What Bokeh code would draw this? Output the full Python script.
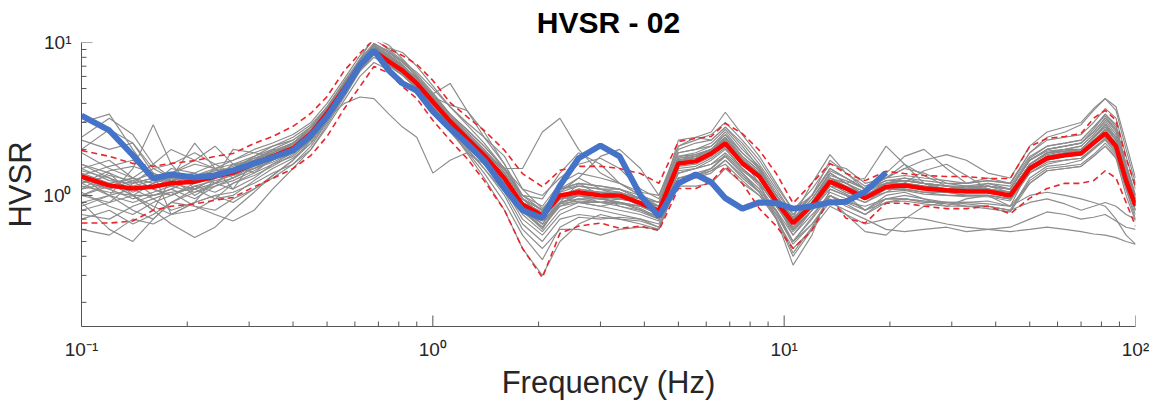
from bokeh.plotting import figure
from bokeh.models import FixedTicker
from bokeh.embed import file_html
from bokeh.resources import INLINE

# Frequency grid (Hz)
freq = [0.10, 0.12, 0.14, 0.16, 0.18, 0.21, 0.24, 0.27, 0.31, 0.35,
        0.40, 0.45, 0.50, 0.56, 0.62, 0.68, 0.75, 0.82, 0.90, 1.0,
        1.12, 1.25, 1.4, 1.6, 1.8, 2.05, 2.3, 2.6, 3.0, 3.4,
        3.9, 4.4, 5.0, 5.6, 6.2, 6.8, 7.6, 8.5, 9.5, 10.6,
        12, 13.5, 15, 17, 19.5, 22, 25, 29, 33, 38,
        44, 50, 56, 63, 70, 76, 82, 88, 94, 100]

# Mean HVSR (red) and mean +/- std (red dashed)
mean_hv = [1.33, 1.16, 1.11, 1.14, 1.20, 1.23, 1.33, 1.41, 1.62, 1.80,
           2.03, 2.54, 3.45, 5.00, 7.10, 8.80, 7.50, 6.55, 5.40, 4.10,
           3.05, 2.36, 1.83, 1.29, 0.87, 0.74, 1.00, 1.05, 1.00, 1.00,
           0.89, 0.79, 1.62, 1.67, 1.88, 2.19, 1.62, 1.33, 0.91, 0.66,
           0.86, 1.23, 1.11, 0.96, 1.14, 1.16, 1.11, 1.08, 1.06, 1.06,
           1.00, 1.50, 1.75, 1.83, 1.88, 2.20, 2.54, 2.10, 1.25, 0.86]

upper_hv = [1.97, 1.80, 1.62, 1.55, 1.62, 1.69, 1.80, 1.88, 2.19, 2.43,
            2.83, 3.45, 4.43, 6.55, 8.50, 10.5, 9.10, 8.20, 7.20, 5.65,
            4.05, 3.28, 2.66, 1.97, 1.39, 1.14, 1.46, 1.55, 1.55, 1.50,
            1.39, 1.20, 2.25, 2.36, 2.43, 2.96, 2.54, 1.97, 1.39, 0.89,
            1.20, 1.62, 1.39, 1.25, 1.44, 1.39, 1.35, 1.33, 1.33, 1.29,
            1.29, 2.09, 2.36, 2.43, 2.54, 3.20, 3.60, 3.10, 1.75, 1.15]

lower_hv = [0.66, 0.66, 0.68, 0.80, 0.85, 0.88, 0.93, 0.97, 1.14, 1.29,
            1.50, 1.83, 2.43, 3.70, 5.15, 6.97, 6.30, 5.15, 4.30, 3.10,
            2.29, 1.75, 1.25, 0.80, 0.45, 0.29, 0.565, 0.63, 0.66, 0.61,
            0.63, 0.59, 1.11, 1.11, 1.23, 1.55, 1.20, 0.82, 0.63, 0.45,
            0.59, 0.96, 0.71, 0.66, 0.89, 0.89, 0.85, 0.82, 0.82, 0.85,
            0.76, 0.96, 1.11, 1.20, 1.20, 1.25, 1.45, 1.30, 0.90, 0.63]

# Blue reference curve (ends near 20 Hz)
blue_hv = [3.33, 2.66, 1.83, 1.29, 1.37, 1.31, 1.35, 1.46, 1.62, 1.77,
           1.97, 2.47, 3.28, 4.85, 7.10, 8.87, 6.55, 5.40, 4.85, 3.54,
           2.74, 2.19, 1.69, 1.11, 0.80, 0.71, 1.16, 1.75, 2.12, 1.80,
           1.00, 0.73, 1.20, 1.37, 1.22, 0.96, 0.82, 0.90, 0.89, 0.82,
           0.85, 0.90, 0.91, 1.06, 1.41]

# Individual window curves (gray)
gray_windows = [
    [1.9, 1.5, 1.3, 1.6, 2.0, 1.7, 1.5, 1.7, 2.0, 2.2,
     2.5, 3.0, 4.0, 5.8, 8.2, 10.5, 9.0, 7.6, 6.0, 4.6,
     3.4, 2.7, 2.1, 1.5, 1.0, 0.85, 1.2, 1.4, 1.3, 1.2,
     1.0, 0.9, 2.0, 2.2, 2.3, 2.8, 2.2, 1.6, 1.1, 0.75,
     1.0, 1.5, 1.3, 1.1, 1.3, 1.35, 1.3, 1.25, 1.2, 1.25,
     1.2, 1.9, 2.3, 2.4, 2.5, 3.0, 3.7, 3.2, 1.8, 1.1],
    [0.75, 0.7, 0.85, 0.95, 0.8, 0.9, 1.0, 1.05, 1.2, 1.4,
     1.6, 2.0, 2.8, 4.2, 6.0, 7.4, 6.6, 5.6, 4.6, 3.6,
     2.6, 2.0, 1.5, 1.05, 0.65, 0.5, 0.7, 0.75, 0.72, 0.7,
     0.68, 0.62, 1.2, 1.3, 1.4, 1.7, 1.3, 1.05, 0.75, 0.5,
     0.7, 1.0, 0.85, 0.75, 0.95, 1.0, 0.95, 0.9, 0.9, 0.92,
     0.85, 1.2, 1.45, 1.5, 1.55, 1.8, 2.1, 1.8, 1.1, 0.75],
    [1.1, 1.4, 1.0, 0.8, 1.3, 2.2, 1.5, 1.1, 1.7, 2.0,
     1.9, 2.3, 3.2, 4.8, 7.0, 9.5, 8.4, 7.0, 5.8, 4.4,
     3.3, 2.5, 1.9, 1.3, 0.8, 0.6, 0.9, 1.2, 1.0, 0.85,
     0.8, 0.7, 1.7, 1.8, 1.9, 2.4, 1.7, 1.4, 0.95, 0.6,
     0.8, 1.3, 1.2, 1.0, 1.2, 1.3, 1.2, 1.1, 1.15, 1.1,
     1.05, 1.6, 1.9, 2.0, 2.1, 2.5, 3.0, 2.4, 1.3, 0.85],
    [1.0, 0.9, 1.2, 1.5, 1.3, 1.0, 1.2, 1.4, 1.5, 1.8,
     2.2, 2.6, 3.2, 4.0, 4.4, 4.3, 3.4, 2.8, 2.4, 1.4,
     1.7, 1.9, 1.6, 1.2, 0.8, 0.62, 0.85, 0.95, 0.9, 0.88,
     0.85, 0.75, 1.4, 1.5, 1.6, 1.9, 1.5, 1.2, 0.85, 0.6,
     0.8, 1.1, 1.0, 0.9, 1.1, 1.1, 1.05, 1.0, 1.0, 1.0,
     0.95, 1.4, 1.6, 1.7, 1.75, 2.0, 2.3, 1.9, 1.15, 0.8],
    [1.5, 1.7, 1.3, 1.1, 1.0, 1.2, 1.5, 1.3, 1.6, 1.9,
     2.2, 2.8, 3.8, 5.6, 7.8, 9.8, 8.6, 7.2, 5.6, 4.6,
     5.4, 3.6, 2.4, 1.6, 1.0, 0.8, 1.1, 1.3, 1.1, 1.0,
     0.95, 0.9, 1.8, 1.9, 2.1, 2.5, 1.9, 1.5, 1.0, 0.7,
     0.95, 1.4, 1.2, 1.0, 1.2, 1.25, 1.2, 1.15, 1.1, 1.15,
     1.1, 1.7, 2.0, 2.1, 2.2, 2.6, 3.2, 2.7, 1.5, 0.95],
    [0.9, 1.0, 0.8, 0.7, 0.9, 1.1, 0.95, 1.2, 1.4, 1.6,
     1.8, 2.3, 3.1, 4.6, 6.6, 8.4, 7.4, 6.2, 5.0, 3.8,
     2.8, 2.1, 1.6, 1.1, 0.7, 0.55, 0.75, 0.85, 0.8, 0.75,
     0.7, 0.65, 1.3, 1.35, 1.45, 1.6, 1.25, 1.0, 0.7, 0.45,
     0.6, 0.85, 0.75, 0.65, 0.7, 0.72, 0.7, 0.65, 0.62, 0.6,
     0.58, 0.6, 0.62, 0.6, 0.58, 0.56, 0.55, 0.53, 0.5, 0.48],
    [1.2, 1.0, 0.9, 1.0, 1.1, 0.95, 1.15, 1.3, 1.5, 1.7,
     2.0, 2.5, 3.4, 5.0, 7.2, 9.0, 7.6, 6.6, 5.4, 4.0,
     2.9, 2.3, 1.75, 1.2, 0.75, 0.58, 0.8, 0.9, 0.85, 0.8,
     0.75, 0.68, 1.4, 1.5, 1.6, 1.8, 1.4, 1.1, 0.78, 0.5,
     0.65, 0.9, 0.8, 0.7, 0.6, 0.58, 0.6, 0.62, 0.58, 0.6,
     0.62, 0.7, 0.78, 0.75, 0.7, 0.72, 0.75, 0.68, 0.62, 0.6],
    [1.4, 1.2, 1.0, 1.2, 1.5, 1.4, 1.2, 1.5, 1.8, 2.1,
     2.3, 2.8, 3.7, 5.4, 7.6, 9.4, 8.2, 7.0, 5.8, 4.3,
     3.1, 2.4, 1.9, 1.5, 1.5, 2.6, 3.2, 2.0, 1.4, 1.2,
     1.0, 0.85, 1.7, 1.8, 2.0, 2.3, 1.7, 1.4, 0.95, 0.7,
     0.9, 1.3, 1.15, 1.0, 1.2, 1.2, 1.15, 1.1, 1.1, 1.1,
     1.05, 1.6, 1.85, 1.95, 2.0, 2.4, 2.8, 2.3, 1.35, 0.9],
    [0.8, 0.9, 1.0, 0.85, 0.75, 0.8, 0.95, 1.0, 1.25, 1.5,
     1.75, 2.2, 3.0, 4.5, 6.5, 8.3, 7.3, 6.3, 5.0, 3.8,
     2.7, 1.9, 1.3, 0.8, 0.45, 0.3, 0.5, 0.65, 0.75, 0.7,
     0.65, 0.6, 1.25, 1.3, 1.45, 1.7, 1.35, 1.05, 0.7, 0.4,
     0.6, 1.0, 0.9, 0.8, 0.95, 0.95, 0.9, 0.9, 0.88, 0.85,
     0.8, 1.25, 1.5, 1.55, 1.6, 1.85, 2.2, 1.85, 1.1, 0.7],
    [0.6, 0.55, 0.7, 0.65, 0.75, 0.9, 1.0, 0.9, 1.1, 1.35,
     1.7, 2.2, 3.1, 4.8, 6.8, 8.6, 7.4, 6.4, 5.2, 3.9,
     2.9, 2.2, 1.7, 1.2, 0.8, 0.65, 0.95, 1.0, 0.9, 0.95,
     0.9, 0.8, 1.55, 1.6, 1.8, 2.1, 1.6, 1.3, 0.9, 0.6,
     0.85, 1.2, 1.05, 0.95, 1.1, 1.1, 1.05, 1.05, 1.0, 1.0,
     0.95, 1.45, 1.7, 1.8, 1.85, 2.2, 2.6, 2.1, 1.25, 0.85],
    [1.3, 1.1, 1.25, 1.4, 1.2, 1.1, 1.3, 1.6, 1.7, 1.9,
     2.1, 2.6, 3.5, 5.2, 7.4, 9.6, 8.0, 6.8, 5.6, 4.2,
     3.2, 2.5, 1.95, 1.4, 0.95, 0.8, 1.05, 1.3, 1.8, 2.0,
     1.5, 1.0, 1.9, 2.0, 2.1, 2.6, 1.9, 1.5, 1.0, 0.72,
     0.9, 1.35, 1.25, 1.1, 1.3, 1.5, 1.4, 1.2, 1.15, 1.2,
     1.1, 1.7, 2.0, 2.1, 2.2, 2.7, 3.4, 2.8, 1.6, 1.0],
    [1.0, 1.2, 1.0, 0.8, 0.65, 0.53, 0.62, 0.8, 1.05, 1.35,
     1.7, 2.3, 3.3, 5.0, 7.3, 9.2, 7.8, 6.8, 5.5, 4.0,
     3.0, 2.3, 1.8, 1.25, 0.85, 0.7, 0.95, 1.0, 0.95, 1.0,
     0.85, 0.8, 1.6, 1.7, 1.9, 2.2, 1.6, 1.3, 0.9, 0.65,
     0.85, 1.25, 1.1, 0.95, 1.15, 1.15, 1.1, 1.1, 1.05, 1.05,
     1.0, 1.5, 1.8, 1.85, 1.95, 2.3, 2.6, 2.2, 1.3, 0.9],
    [0.9, 0.6, 0.5, 0.7, 0.9, 1.05, 1.2, 1.1, 1.3, 1.6,
     1.9, 2.4, 3.4, 5.0, 7.0, 8.6, 7.6, 6.6, 5.4, 4.0,
     3.0, 2.3, 1.8, 1.3, 0.9, 0.75, 1.0, 0.9, 0.85, 0.9,
     0.85, 0.75, 1.6, 1.7, 1.85, 2.1, 1.6, 1.3, 0.9, 0.55,
     0.8, 1.2, 1.05, 0.95, 1.1, 1.1, 1.05, 1.05, 1.0, 1.0,
     0.95, 1.5, 1.7, 1.8, 1.85, 2.2, 2.5, 2.0, 1.2, 0.8],
    [2.4, 3.2, 2.5, 1.6, 1.3, 1.4, 1.6, 1.7, 1.9, 2.1,
     2.4, 2.9, 3.8, 5.4, 7.6, 9.8, 8.8, 7.4, 6.0, 4.5,
     3.3, 2.6, 2.0, 1.4, 0.95, 0.8, 1.1, 1.2, 1.15, 1.1,
     0.95, 0.85, 1.8, 1.85, 2.0, 2.5, 1.8, 1.45, 1.0, 0.7,
     0.95, 1.4, 1.2, 1.05, 1.25, 1.25, 1.2, 1.15, 1.12, 1.15,
     1.1, 1.7, 1.95, 2.0, 2.1, 2.5, 3.1, 2.5, 1.4, 0.95],
    [1.3, 1.0, 1.5, 2.9, 1.6, 1.1, 1.3, 2.0, 1.9, 1.8,
     2.1, 2.7, 3.6, 5.2, 7.4, 9.2, 7.9, 6.9, 5.7, 4.2,
     3.1, 2.4, 1.85, 1.3, 0.85, 0.65, 0.9, 1.0, 1.0, 0.95,
     0.9, 0.8, 1.65, 1.75, 1.9, 2.3, 1.7, 1.35, 0.9, 0.62,
     0.85, 1.25, 1.15, 1.0, 1.1, 1.2, 1.1, 1.1, 1.05, 1.05,
     1.0, 1.55, 1.8, 1.9, 1.95, 2.3, 2.7, 2.2, 1.3, 0.88],
    [1.1, 1.2, 1.3, 1.1, 1.0, 1.15, 1.25, 1.35, 1.55, 1.75,
     2.0, 2.5, 3.4, 5.0, 7.0, 8.8, 7.6, 6.6, 5.4, 4.1,
     3.0, 2.3, 1.8, 1.25, 0.85, 0.7, 0.95, 1.05, 1.0, 1.0,
     0.9, 0.8, 1.6, 1.65, 1.85, 2.2, 1.6, 1.3, 0.9, 0.65,
     0.9, 1.4, 1.2, 1.3, 2.1, 1.6, 1.2, 1.05, 1.1, 1.1,
     1.0, 1.5, 1.75, 1.85, 1.9, 2.2, 2.6, 2.1, 1.25, 0.85],
    [1.6, 1.4, 1.2, 1.3, 1.4, 1.6, 1.5, 1.45, 1.7, 1.95,
     2.2, 2.7, 3.6, 5.3, 7.5, 9.7, 8.3, 7.1, 5.8, 4.4,
     3.2, 2.5, 1.9, 1.35, 0.9, 0.75, 1.0, 1.1, 1.05, 1.05,
     0.95, 0.85, 1.75, 1.85, 2.0, 2.4, 1.8, 1.45, 1.0, 0.72,
     1.2, 1.85, 1.4, 1.1, 1.4, 1.8, 2.0, 1.5, 1.2, 1.3,
     1.2, 1.8, 2.1, 2.2, 2.3, 2.8, 3.4, 2.9, 1.6, 1.0],
    [1.2, 1.35, 1.25, 1.0, 1.1, 1.3, 1.45, 1.5, 1.7, 1.85,
     2.05, 2.6, 3.5, 5.1, 7.2, 9.0, 7.6, 6.6, 5.4, 4.1,
     3.0, 2.3, 1.8, 1.3, 0.9, 0.7, 1.0, 1.05, 1.0, 1.05,
     0.9, 0.78, 1.7, 1.75, 1.95, 2.4, 1.7, 1.2, 0.7, 0.35,
     0.55, 1.1, 1.0, 0.8, 1.0, 1.05, 0.95, 0.85, 0.95, 1.0,
     0.85, 1.5, 1.8, 1.9, 1.95, 2.3, 2.7, 2.2, 1.35, 0.9],
    [1.0, 1.15, 1.3, 1.2, 1.3, 1.25, 1.3, 1.45, 1.6, 1.75,
     2.0, 2.5, 3.4, 5.0, 7.0, 8.8, 7.8, 6.9, 5.6, 4.2,
     3.1, 2.4, 1.85, 1.3, 0.85, 0.72, 0.95, 1.0, 0.95, 0.95,
     0.9, 0.85, 2.3, 2.4, 2.6, 3.5, 2.5, 1.8, 1.2, 0.8,
     1.0, 1.5, 1.3, 1.1, 1.2, 1.25, 1.2, 1.15, 1.1, 1.15,
     1.1, 1.7, 2.0, 2.1, 2.2, 2.6, 3.2, 2.6, 1.5, 1.0],
    [1.25, 1.1, 0.95, 1.05, 1.15, 1.3, 1.4, 1.35, 1.55, 1.75,
     1.95, 2.4, 3.3, 4.9, 6.9, 8.7, 7.3, 6.4, 5.2, 3.9,
     2.9, 2.2, 1.7, 1.2, 0.8, 0.68, 0.9, 0.95, 0.95, 0.9,
     0.8, 0.72, 1.15, 1.15, 1.2, 1.5, 1.2, 1.0, 0.8, 0.55,
     0.75, 1.0, 0.9, 0.85, 0.95, 0.95, 0.92, 0.88, 0.85, 0.85,
     0.8, 0.9, 0.95, 0.88, 0.8, 0.85, 0.9, 0.85, 0.75, 0.7],
    [3.0, 3.4, 2.0, 1.3, 1.2, 1.35, 1.4, 1.55, 1.75, 1.9,
     2.15, 2.7, 3.6, 5.2, 7.3, 9.3, 8.0, 7.0, 5.7, 4.3,
     3.15, 2.45, 1.9, 1.3, 0.9, 0.78, 1.05, 1.15, 1.1, 1.05,
     0.95, 0.82, 1.7, 1.75, 1.95, 2.3, 1.7, 1.4, 0.95, 0.68,
     0.9, 1.3, 1.15, 1.0, 1.15, 1.2, 1.15, 1.1, 1.1, 1.1,
     1.05, 1.6, 1.9, 1.95, 2.0, 2.4, 2.9, 2.3, 1.35, 0.9],
    [1.45, 1.3, 1.15, 1.25, 1.35, 1.2, 1.3, 1.4, 1.65, 1.85,
     2.1, 2.5, 3.3, 4.6, 6.6, 8.4, 9.2, 8.6, 7.0, 5.2,
     3.8, 2.9, 2.2, 1.5, 0.95, 0.72, 0.95, 1.05, 1.05, 1.0,
     0.88, 0.8, 1.65, 1.7, 1.9, 2.2, 1.65, 1.3, 0.88, 0.62,
     0.85, 1.25, 1.1, 0.95, 1.15, 1.15, 1.1, 1.05, 1.05, 1.05,
     1.0, 1.55, 1.8, 1.85, 1.9, 2.2, 2.5, 2.1, 1.25, 0.85],
    [1.5, 1.25, 1.2, 1.3, 1.25, 1.35, 1.45, 1.5, 1.75, 1.95,
     2.2, 2.7, 3.7, 5.3, 7.4, 9.2, 8.0, 7.0, 5.8, 4.4,
     3.2, 2.5, 1.95, 1.4, 0.95, 0.8, 1.1, 1.15, 1.1, 1.1,
     0.95, 0.85, 1.75, 1.8, 2.0, 2.35, 1.75, 1.4, 0.95, 0.7,
     0.9, 1.3, 1.2, 1.05, 1.2, 1.25, 1.2, 1.15, 1.15, 1.15,
     1.05, 1.6, 1.9, 2.0, 2.0, 2.4, 2.8, 2.3, 1.4, 0.92],
    [1.15, 1.05, 1.0, 1.0, 1.05, 1.1, 1.2, 1.3, 1.5, 1.65,
     1.9, 2.35, 3.2, 4.7, 6.8, 8.4, 7.2, 6.2, 5.1, 3.8,
     2.8, 2.2, 1.7, 1.2, 0.8, 0.65, 0.88, 0.92, 0.9, 0.9,
     0.82, 0.72, 1.5, 1.55, 1.75, 2.05, 1.5, 1.22, 0.85, 0.6,
     0.8, 1.15, 1.02, 0.9, 1.05, 1.08, 1.02, 1.0, 0.98, 0.98,
     0.92, 1.4, 1.65, 1.7, 1.75, 2.05, 2.35, 1.95, 1.15, 0.8],
    [2.3, 2.0, 2.2, 1.4, 0.75, 0.9, 1.3, 1.6, 1.5, 1.7,
     2.0, 2.6, 3.5, 5.2, 7.8, 10.8, 9.6, 7.8, 6.2, 4.7,
     3.4, 2.7, 2.1, 1.5, 1.1, 1.0, 1.3, 1.6, 1.75, 1.5,
     1.1, 0.95, 2.1, 2.3, 2.5, 3.0, 2.3, 1.7, 1.15, 0.8,
     1.1, 1.6, 1.5, 1.2, 1.3, 1.5, 1.7, 1.85, 1.7, 1.4,
     1.3, 2.1, 2.6, 2.8, 3.0, 3.7, 4.3, 3.6, 2.0, 1.2],
    [0.85, 1.0, 1.1, 0.95, 1.05, 0.85, 0.75, 0.68, 0.8, 1.1,
     1.5, 2.0, 2.9, 4.4, 6.5, 8.0, 7.0, 6.1, 5.0, 3.7,
     2.7, 2.05, 1.5, 1.0, 0.6, 0.45, 0.6, 0.6, 0.55, 0.6,
     0.62, 0.6, 1.3, 1.4, 1.5, 1.8, 1.4, 1.1, 0.75, 0.48,
     0.65, 0.95, 0.75, 0.58, 0.55, 0.7, 0.85, 0.9, 0.85, 0.85,
     0.8, 1.3, 1.55, 1.6, 1.7, 2.0, 2.4, 2.0, 1.2, 0.8],
    [1.35, 1.55, 1.7, 1.3, 1.15, 1.05, 1.15, 1.25, 1.45, 1.7,
     2.0, 2.5, 3.4, 5.0, 7.1, 9.0, 7.9, 7.0, 5.9, 4.5,
     3.4, 2.6, 2.0, 1.45, 1.0, 0.95, 1.4, 1.9, 1.6, 1.2,
     1.05, 1.0, 2.1, 2.4, 2.3, 2.8, 2.1, 1.5, 1.0, 0.7,
     1.0, 1.7, 1.4, 1.15, 1.3, 1.6, 1.35, 1.15, 1.1, 1.2,
     1.15, 1.75, 2.1, 2.2, 2.3, 2.8, 3.3, 2.7, 1.5, 0.95],
    [1.05, 0.85, 0.75, 0.9, 1.0, 1.15, 1.05, 1.2, 1.35, 1.55,
     1.85, 2.3, 3.2, 4.8, 6.9, 8.9, 7.7, 6.5, 5.3, 4.0,
     2.9, 2.2, 1.7, 1.2, 0.8, 0.62, 0.85, 0.9, 0.9, 0.85,
     0.78, 0.7, 1.45, 1.5, 1.7, 2.0, 1.5, 1.15, 0.8, 0.5,
     0.72, 1.05, 0.95, 0.8, 0.9, 0.95, 0.92, 0.9, 0.9, 0.88,
     0.85, 1.0, 1.05, 1.0, 0.95, 0.9, 0.85, 0.7, 0.55, 0.48],
    [1.2, 1.45, 1.55, 1.4, 1.25, 1.35, 1.5, 1.6, 1.8, 2.0,
     2.3, 2.8, 3.8, 5.5, 7.7, 9.9, 8.6, 7.5, 6.4, 5.0,
     3.8, 3.0, 2.4, 1.8, 1.1, 0.82, 1.1, 1.2, 1.15, 1.1,
     1.0, 0.9, 1.9, 2.0, 2.2, 2.7, 2.0, 1.55, 1.05, 0.75,
     1.0, 1.45, 1.3, 1.1, 1.25, 1.3, 1.25, 1.2, 1.2, 1.25,
     1.2, 1.9, 2.4, 2.6, 2.9, 3.6, 4.3, 3.8, 2.2, 1.3],
    [1.6, 1.3, 1.05, 1.2, 1.4, 1.7, 2.1, 1.6, 1.4, 1.75,
     2.1, 2.5, 3.3, 4.9, 7.0, 9.1, 7.8, 6.7, 5.5, 4.0,
     2.9, 2.25, 1.75, 1.2, 0.78, 0.62, 0.88, 1.0, 0.95, 0.9,
     0.85, 0.8, 1.3, 1.35, 1.5, 1.85, 1.45, 1.2, 0.85, 0.58,
     0.8, 1.15, 1.1, 0.95, 1.05, 1.2, 1.45, 1.6, 1.35, 1.1,
     0.95, 1.5, 1.8, 1.9, 2.0, 2.4, 2.9, 2.4, 1.4, 0.9],
    [0.7, 0.8, 0.65, 0.75, 0.9, 0.85, 0.8, 0.95, 1.1, 1.3,
     1.6, 2.1, 3.0, 4.6, 6.7, 8.5, 7.1, 6.1, 5.0, 3.7,
     2.6, 1.95, 1.4, 0.9, 0.55, 0.38, 0.62, 0.72, 0.7, 0.72,
     0.7, 0.62, 1.3, 1.35, 1.5, 1.8, 1.4, 1.05, 0.72, 0.42,
     0.62, 1.0, 0.88, 0.75, 0.9, 0.92, 0.88, 0.85, 0.85, 0.82,
     0.78, 1.2, 1.45, 1.5, 1.55, 1.8, 2.1, 1.75, 1.0, 0.68],
    [2.0, 2.7, 2.2, 1.5, 1.6, 1.9, 1.6, 1.4, 1.6, 1.9,
     2.2, 2.7, 3.6, 5.3, 7.5, 9.5, 8.1, 6.8, 5.2, 4.4,
     3.9, 3.6, 2.6, 1.6, 0.95, 0.75, 1.0, 1.1, 1.05, 1.0,
     0.9, 0.8, 1.7, 1.75, 1.95, 2.3, 1.7, 1.4, 0.95, 0.68,
     0.9, 1.3, 1.15, 1.0, 1.15, 1.2, 1.15, 1.1, 1.1, 1.1,
     1.05, 1.6, 1.9, 1.95, 2.0, 2.4, 2.9, 2.3, 1.35, 0.9],
]

x_major = [0.1, 1, 10, 100]
x_labels = {0.1: "10\u207b\u00b9", 1: "10\u2070", 10: "10\u00b9", 100: "10\u00b2"}
y_major = [1, 10]
y_labels = {1: "10\u2070", 10: "10\u00b9"}

FONT = "Liberation Sans"
AXIS_COL = "#555555"
X_MIN, X_MAX = 0.1, 100
Y_MIN, Y_MAX = 0.139, 10

p = figure(frame_width=1054, frame_height=284, x_axis_type="log", y_axis_type="log",
           x_range=(X_MIN, X_MAX), y_range=(Y_MIN, Y_MAX),
           output_backend="svg", toolbar_location=None, title="HVSR - 02",
           min_border_left=71, min_border_right=14, min_border_top=30,
           min_border_bottom=60)

for g in gray_windows:
    p.line(freq, g, line_color="#8c8c8c", line_width=1.15)

p.line(freq, upper_hv, line_color="#e8262b", line_width=1.6, line_dash="6 4")
p.line(freq, lower_hv, line_color="#e8262b", line_width=1.6, line_dash="6 4")
p.line(freq, mean_hv, line_color="#ff0000", line_width=4.5)
p.line(freq[:len(blue_hv)], blue_hv, line_color="#4473c8", line_width=6)

minor_x = [m * 10.0 ** e for e in (-1, 0, 1) for m in range(2, 10)]
minor_y = [m * 10.0 ** e for e in (-1, 0) for m in range(2, 10)]
minor_y = [v for v in minor_y if v > Y_MIN]

# inward tick marks drawn as short screen-length rays from the axes
p.ray(x=x_major[1:], y=[Y_MIN] * (len(x_major) - 1), length=11, angle=90,
      angle_units="deg", length_units="screen", line_color=AXIS_COL, line_width=1)
p.ray(x=minor_x, y=[Y_MIN] * len(minor_x), length=5, angle=90,
      angle_units="deg", length_units="screen", line_color=AXIS_COL, line_width=1)
p.ray(x=[X_MIN] * len(y_major), y=y_major, length=11, angle=0,
      angle_units="deg", length_units="screen", line_color=AXIS_COL, line_width=1)
p.ray(x=[X_MIN] * len(minor_y), y=minor_y, length=5, angle=0,
      angle_units="deg", length_units="screen", line_color=AXIS_COL, line_width=1)

p.xaxis.ticker = FixedTicker(ticks=x_major)
p.yaxis.ticker = FixedTicker(ticks=y_major)
p.xaxis.major_label_overrides = x_labels
p.yaxis.major_label_overrides = y_labels

p.grid.visible = False
p.outline_line_color = None

for ax in (p.xaxis, p.yaxis):
    ax.axis_line_color = AXIS_COL
    ax.axis_line_width = 1
    ax.major_tick_in = 0
    ax.major_tick_out = 0
    ax.minor_tick_in = 0
    ax.minor_tick_out = 0
    ax.major_label_text_font = FONT
    ax.major_label_text_font_size = "19px"
    ax.major_label_text_color = "#262626"
    ax.axis_label_text_font = FONT
    ax.axis_label_text_font_size = "31px"
    ax.axis_label_text_font_style = "normal"
    ax.axis_label_text_color = "#262626"

p.xaxis.axis_label = "Frequency (Hz)"
p.yaxis.axis_label = "HVSR"
p.xaxis.major_label_standoff = 12
p.yaxis.major_label_standoff = 10
p.xaxis.axis_label_standoff = 2
p.yaxis.axis_label_standoff = 2

p.title.text_font = FONT
p.title.text_font_size = "30px"
p.title.text_font_style = "bold"
p.title.text_color = "#000000"
p.title.align = "center"
p.title.standoff = 7

open("out.html", "w").write(file_html(p, INLINE))
